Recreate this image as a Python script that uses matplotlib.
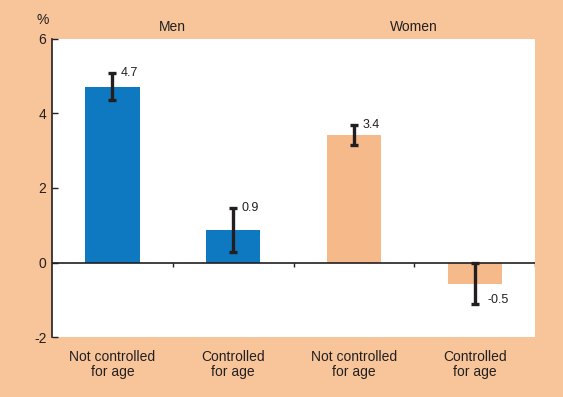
import matplotlib.pyplot as plt
import numpy as np

plt.rcParams["font.family"] = ["Liberation Sans", "DejaVu Sans"]
plt.rcParams["axes.unicode_minus"] = False

groups = ["Men", "Women"]
categories = ["Not controlled\nfor age", "Controlled\nfor age",
              "Not controlled\nfor age", "Controlled\nfor age"]
values = [4.72, 0.88, 3.43, -0.58]
err_low = [4.36, 0.29, 3.14, -1.12]
err_high = [5.09, 1.45, 3.70, 0.0]
labels = ["4.7", "0.9", "3.4", "-0.5"]

blue = "#0E78C0"
peach = "#F6B98A"
bg = "#F8C59A"
dark = "#231F20"
colors = [blue, blue, peach, peach]

fig = plt.figure(figsize=(5.63, 3.97), dpi=100, facecolor=bg)
ax = fig.add_axes([0.0924, 0.151, 0.858, 0.751])
ax.set_facecolor("white")

x = np.arange(len(values))
ax.bar(x, values, width=0.45, color=colors, zorder=2)
vals = np.array(values)
yerr = [vals - np.array(err_low), np.array(err_high) - vals]
ax.errorbar(x, values, yerr=yerr, fmt="none", ecolor=dark, elinewidth=2.4,
            capsize=3.2, capthick=2.4, zorder=3)

for i, lab in enumerate(labels):
    if values[i] >= 0:
        ax.text(x[i] + 0.07, err_high[i], lab, fontsize=9, color=dark,
                va="center", ha="left")
    else:
        ax.text(x[i] + 0.11, err_low[i] + 0.12, lab, fontsize=9, color=dark,
                va="center", ha="left")

ax.set_xlim(-0.5, len(values) - 0.5)
ax.set_ylim(-2, 6)
ax.set_yticks([-2, 0, 2, 4, 6])
ax.tick_params(axis="y", direction="in", length=4, width=1, labelsize=10,
               colors=dark, pad=4)
ax.set_xticks(x)
ax.set_xticklabels(categories, fontsize=10, color=dark, linespacing=1.15)
ax.tick_params(axis="x", length=0, pad=9)

for s in ["top", "right", "bottom"]:
    ax.spines[s].set_visible(False)
ax.spines["left"].set_linewidth(1.2)
ax.spines["left"].set_color(dark)

ax.axhline(0, color=dark, lw=1.2, zorder=4)
bounds = np.arange(len(values) + 1) - 0.5
ax.vlines(bounds[1:], -0.12, 0, color=dark, lw=1, zorder=4)

# group headings above the plot
for g, name in enumerate(groups):
    ax.text(2 * g + 0.5, 6.22, name, fontsize=10, color=dark,
            ha="center", va="baseline", clip_on=False)
ax.text(-0.58, 6.4, "%", fontsize=10, color=dark, ha="center", va="baseline")

fig.savefig("out.png", dpi=100, facecolor=bg)
